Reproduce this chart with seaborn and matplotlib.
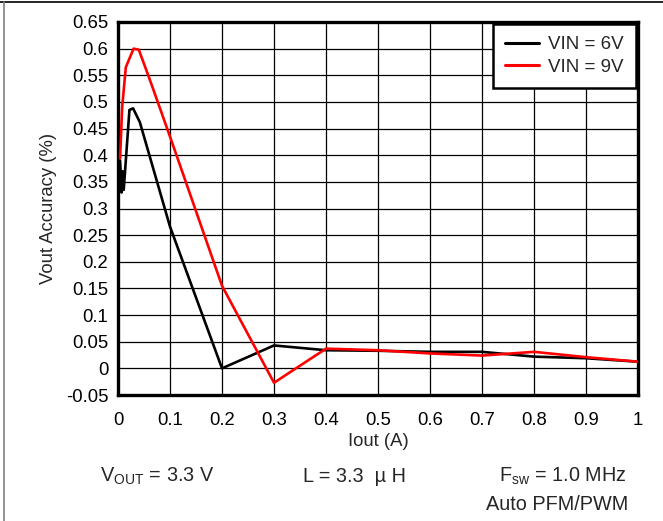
import matplotlib
matplotlib.use("Agg")
import matplotlib.pyplot as plt
import seaborn as sns
import pandas as pd
from matplotlib.lines import Line2D

# Data
iout_6v = [0.001, 0.004, 0.007, 0.009, 0.011, 0.022, 0.029, 0.042, 0.1, 0.2, 0.3, 0.4, 0.5, 0.6, 0.7, 0.8, 0.9, 1.0]
acc_6v = [0.33, 0.39, 0.33, 0.37, 0.335, 0.485, 0.488, 0.462, 0.266, 0.0, 0.043, 0.034, 0.033, 0.031, 0.031, 0.022, 0.019, 0.0125]
iout_9v = [0.004, 0.008, 0.015, 0.03, 0.04, 0.06, 0.1, 0.2, 0.3, 0.4, 0.5, 0.6, 0.7, 0.8, 0.9, 1.0]
acc_9v = [0.394, 0.49, 0.565, 0.6, 0.598, 0.545, 0.435, 0.155, -0.027, 0.037, 0.034, 0.028, 0.024, 0.031, 0.021, 0.0125]
series_names = ["VIN = 6V", "VIN = 9V"]
x_ticks = [0, 0.1, 0.2, 0.3, 0.4, 0.5, 0.6, 0.7, 0.8, 0.9, 1]
x_tick_labels = ["0", "0.1", "0.2", "0.3", "0.4", "0.5", "0.6", "0.7", "0.8", "0.9", "1"]
y_ticks = [-0.05, 0, 0.05, 0.1, 0.15, 0.2, 0.25, 0.3, 0.35, 0.4, 0.45, 0.5, 0.55, 0.6, 0.65]
y_tick_labels = ["-0.05", "0", "0.05", "0.1", "0.15", "0.2", "0.25", "0.3", "0.35", "0.4",
                 "0.45", "0.5", "0.55", "0.6", "0.65"]

df = pd.concat([
    pd.DataFrame({"Iout": iout_6v, "Acc": acc_6v, "Series": series_names[0]}),
    pd.DataFrame({"Iout": iout_9v, "Acc": acc_9v, "Series": series_names[1]}),
], ignore_index=True)

sns.set_style("white")
plt.rcParams["font.family"] = ["Liberation Sans", "DejaVu Sans"]
plt.rcParams["mathtext.fontset"] = "custom"
plt.rcParams["mathtext.rm"] = "Liberation Sans"
plt.rcParams["mathtext.it"] = "Liberation Sans"

fig = plt.figure(figsize=(6.63, 5.21), dpi=100)
ax = fig.add_axes([118 / 663, 1 - 395 / 521, (638 - 118) / 663, (395 - 22) / 521])

sns.lineplot(data=df, x="Iout", y="Acc", hue="Series", sort=False, estimator=None,
             palette={series_names[0]: "black", series_names[1]: "#ff0000"},
             linewidth=1.9, ax=ax, zorder=3)

ax.set_xlim(0, 1)
ax.set_ylim(-0.05, 0.65)
ax.set_xticks(x_ticks)
ax.set_xticklabels(x_tick_labels)
ax.set_yticks(y_ticks)
ax.set_yticklabels(y_tick_labels)
ax.tick_params(axis="both", length=0, labelsize=13.3, colors="black")
ax.tick_params(axis="y", pad=7)
ax.tick_params(axis="x", pad=12)
ax.grid(True, color="black", linewidth=0.9)
ax.set_axisbelow(True)
for s in ax.spines.values():
    s.set_visible(True)
    s.set_color("black")
    s.set_linewidth(2.4)

ax.set_xlabel("Iout (A)", fontsize=13.3, labelpad=3)
ax.set_ylabel("Vout Accuracy (%)", fontsize=13.3, labelpad=6)

leg = ax.legend(loc="upper right", fontsize=13.5, frameon=True, fancybox=False,
                handlelength=1.8, borderpad=0.65, labelspacing=0.3, borderaxespad=0.1,
                handletextpad=0.5)
leg.get_frame().set_edgecolor("black")
leg.get_frame().set_linewidth(1.8)
leg.get_frame().set_alpha(1)
for h in leg.get_lines():
    h.set_linewidth(2.2)

fs = 14.3
fig.text(100 / 663, 1 - 481.5 / 521, r"V$_{\mathrm{OUT}}$ = 3.3 V", fontsize=fs, va="baseline", ha="left")
fig.text(303 / 663, 1 - 481.5 / 521, "L = 3.3  µ H", fontsize=fs, va="baseline", ha="left")
fig.text(626 / 663, 1 - 481.5 / 521, r"F$_{\mathrm{sw}}$ = 1.0 MHz", fontsize=fs, va="baseline", ha="right")
fig.text(628 / 663, 1 - 510 / 521, "Auto PFM/PWM", fontsize=fs, va="baseline", ha="right")

# outer frame fragments
fig.add_artist(Line2D([0, 1], [1 - 2 / 521, 1 - 2 / 521], color="black", linewidth=1.2, transform=fig.transFigure))
fig.add_artist(Line2D([4 / 663, 4 / 663], [0, 1 - 2 / 521], color="#808080", linewidth=1.2, transform=fig.transFigure))

fig.savefig("out.png", dpi=100)
